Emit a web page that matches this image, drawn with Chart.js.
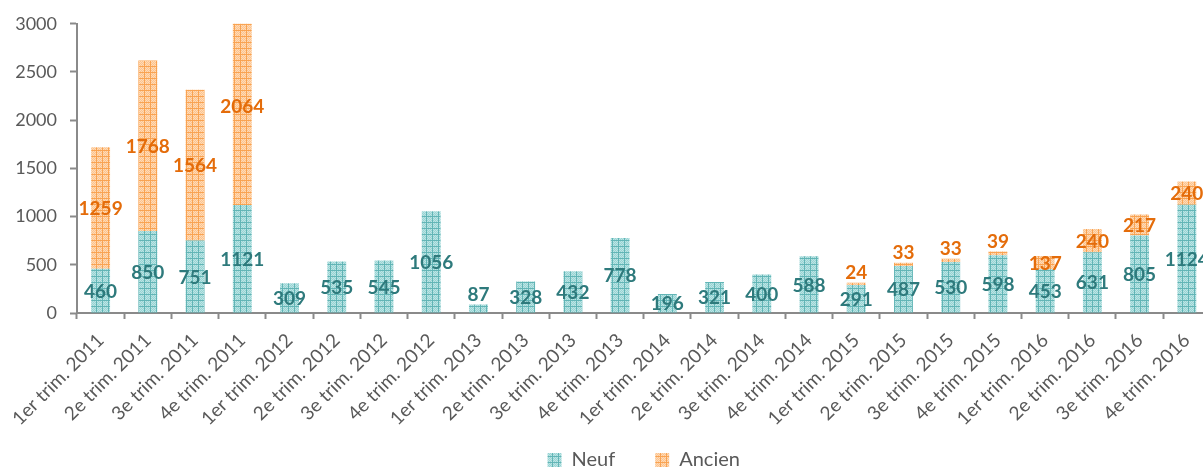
<!DOCTYPE html>
<html lang="fr">
<head>
<meta charset="utf-8">
<title>Logements neufs et anciens par trimestre</title>
<script src="https://cdn.jsdelivr.net/npm/chart.js@4/dist/chart.umd.min.js"></script>
<style>
  html, body { margin: 0; padding: 0; background: #ffffff; overflow: hidden; }
  #wrap { width: 1203px; height: 469px; overflow: hidden; position: relative; }
  canvas { display: block; }
</style>
</head>
<body>
<div id="wrap"><canvas id="chart" width="1213" height="469"></canvas></div>
<script>
// Quarters
const categories = [
  '1er trim. 2011', '2e trim. 2011', '3e trim. 2011', '4e trim. 2011',
  '1er trim. 2012', '2e trim. 2012', '3e trim. 2012', '4e trim. 2012',
  '1er trim. 2013', '2e trim. 2013', '3e trim. 2013', '4e trim. 2013',
  '1er trim. 2014', '2e trim. 2014', '3e trim. 2014', '4e trim. 2014',
  '1er trim. 2015', '2e trim. 2015', '3e trim. 2015', '4e trim. 2015',
  '1er trim. 2016', '2e trim. 2016', '3e trim. 2016', '4e trim. 2016'
];

// New housing
const neuf = [460, 850, 751, 1121, 309, 535, 545, 1056, 87, 328, 432, 778,
              196, 321, 400, 588, 291, 487, 530, 598, 453, 631, 805, 1124];

// Existing housing (no value for 2012-2014)
const ancien = [1259, 1768, 1564, 2064, null, null, null, null, null, null, null, null,
                null, null, null, null, 24, 33, 33, 39, 137, 240, 217, 240];

// Y axis ticks
const yTicks = [0, 500, 1000, 1500, 2000, 2500, 3000];

const FONT = 'Lato, "Liberation Sans", sans-serif';
const AXIS_GREY = '#8a8a8a';
const TEXT_GREY = '#595959';

// Small textured tile: light fill, dotted texture, darker grid lines
function makePattern(base, dot, line) {
  const c = document.createElement('canvas');
  c.width = 6; c.height = 6;
  const g = c.getContext('2d');
  g.fillStyle = base;
  g.fillRect(0, 0, 6, 6);
  g.fillStyle = dot;
  for (let y = 1; y < 6; y++) {
    for (let x = 1; x < 6; x++) {
      if ((x + y) % 2 === 0) g.fillRect(x, y, 1, 1);
    }
  }
  g.fillStyle = line;
  g.fillRect(0, 0, 6, 1);
  g.fillRect(0, 0, 1, 6);
  return g.createPattern(c, 'repeat');
}

const ctx0 = document.getElementById('chart').getContext('2d');
const neufFill = makePattern('#97d3d3', '#bde5e5', '#62b5b6');
const ancienFill = makePattern('#fdc28b', '#fedbb8', '#f9a352');

// Value labels drawn on each segment (centred, or just above when the segment is too thin)
const valueLabels = {
  id: 'valueLabels',
  afterDatasetsDraw(chart) {
    const c = chart.ctx;
    c.save();
    c.font = 'bold 19px ' + FONT;
    c.textAlign = 'center';
    c.textBaseline = 'middle';
    chart.data.datasets.forEach((ds, di) => {
      const meta = chart.getDatasetMeta(di);
      meta.data.forEach((bar, i) => {
        const v = ds.data[i];
        if (v === null || v === undefined) return;
        const top = bar.y, base = bar.base;
        const h = Math.abs(base - top);
        let y = (top + base) / 2;
        if (h < 12) y = top - 11;
        c.fillStyle = ds.labelColor;
        c.fillText(String(v), bar.x, y + 1);
      });
    });
    c.restore();
  }
};

new Chart(ctx0, {
  type: 'bar',
  data: {
    labels: categories,
    datasets: [
      {
        label: 'Neuf',
        data: neuf,
        backgroundColor: neufFill,
        borderWidth: 0,
        labelColor: '#2e7a7c',
        clip: 0,
        barPercentage: 0.4,
        categoryPercentage: 1
      },
      {
        label: 'Ancien',
        data: ancien,
        backgroundColor: ancienFill,
        borderWidth: 0,
        labelColor: '#e46c0a',
        clip: 0,
        barPercentage: 0.4,
        categoryPercentage: 1
      }
    ]
  },
  options: {
    responsive: false,
    animation: false,
    layout: { padding: { top: 13, right: 2, left: 0, bottom: -11 } },
    plugins: {
      legend: {
        position: 'bottom',
        fullSize: false,
        labels: {
          boxWidth: 14,
          boxHeight: 14,
          padding: 40,
          color: TEXT_GREY,
          font: { family: FONT, size: 20 }
        }
      },
      tooltip: { enabled: false }
    },
    scales: {
      x: {
        stacked: true,
        grid: {
          display: true,
          drawOnChartArea: false,
          drawTicks: true,
          tickLength: 6,
          tickWidth: 2,
          color: AXIS_GREY,
          offset: true
        },
        border: { display: true, color: AXIS_GREY, width: 2 },
        ticks: {
          autoSkip: false,
          maxRotation: 45,
          minRotation: 45,
          padding: 10,
          color: TEXT_GREY,
          font: { family: FONT, size: 19 }
        },
        afterFit(scale) {
          scale.height = 97;
          // the rotated labels reach below the fixed axis box; let them draw in full
          scale._computeLabelArea = () => undefined;
        }
      },
      y: {
        stacked: true,
        min: 0,
        max: 3000,
        afterBuildTicks(scale) { scale.ticks = yTicks.map(v => ({ value: v })); },
        grid: {
          display: true,
          drawOnChartArea: false,
          drawTicks: true,
          tickLength: 7,
          tickWidth: 2,
          color: AXIS_GREY
        },
        border: { display: true, color: AXIS_GREY, width: 2 },
        ticks: {
          padding: 13,
          color: TEXT_GREY,
          font: { family: FONT, size: 18 },
          callback: v => String(v)
        },
        afterFit(scale) { scale.width = 77; }
      }
    }
  },
  plugins: [valueLabels]
});
</script>
</body>
</html>
